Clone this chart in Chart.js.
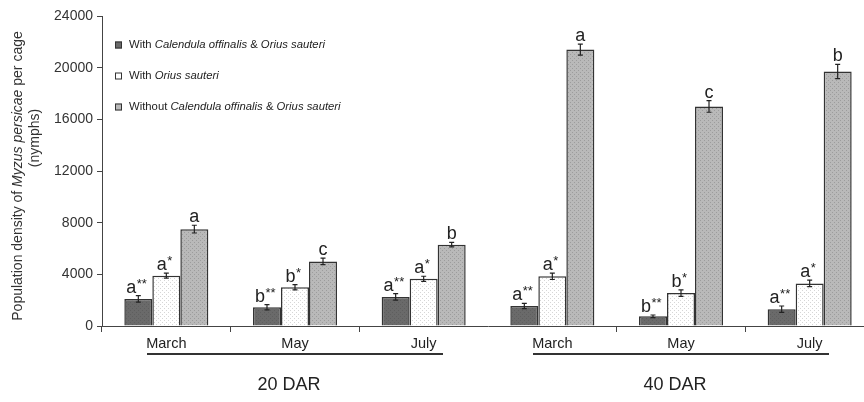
<!DOCTYPE html>
<html lang="en">
<head>
<meta charset="UTF-8">
<title>Myzus persicae population density</title>
<script src="https://cdn.jsdelivr.net/npm/chart.js"></script>
<style>
  html, body { margin: 0; padding: 0; background: #fff; overflow: hidden; }
  .wrap { width: 864px; height: 402px; overflow: hidden; position: relative; }
  .wrap canvas { position: absolute; left: 0; top: 0; }
</style>
</head>
<body>
<div class="wrap">
  <canvas id="chart" width="880" height="402"></canvas>
</div>
<script>
// data
const months = ['March', 'May', 'July', 'March', 'May', 'July'];
const periods = ['20 DAR', '40 DAR'];
const withBoth = [2100, 1450, 2250, 1550, 750, 1300];
const withBothErr = [250, 200, 250, 200, 100, 250];
const withOrius = [3900, 3000, 3650, 3850, 2550, 3300];
const withOriusErr = [200, 200, 200, 250, 250, 250];
const withoutBoth = [7500, 5000, 6300, 21400, 17000, 19700];
const withoutBothErr = [300, 250, 180, 430, 450, 550];
const lettersBoth = ['a**', 'b**', 'a**', 'a**', 'b**', 'a**'];
const lettersOrius = ['a*', 'b*', 'a*', 'a*', 'b*', 'a*'];
const lettersWithout = ['a', 'c', 'b', 'a', 'c', 'b'];
const yMax = 24000;
const yStep = 4000;

const FONT = '"Liberation Sans", Arial, sans-serif';

function dots(bg, dot) {
  const c = document.createElement('canvas');
  c.width = 4; c.height = 4;
  const g = c.getContext('2d');
  g.fillStyle = bg; g.fillRect(0, 0, 4, 4);
  g.fillStyle = dot;
  g.fillRect(0, 0, 1, 1);
  g.fillRect(2, 2, 1, 1);
  return g.createPattern(c, 'repeat');
}

const fillDark = dots('#6a6a6a', '#5e5e5e');
const fillWhite = dots('#ffffff', '#d6d6d6');
const fillGrey = dots('#b9b9b9', '#9c9c9c');

// legend entries, with italic parts
const legendItems = [
  { fill: '#6a6a6a', parts: [['With ', 0], ['Calendula offinalis', 1], [' & ', 0], ['Orius sauteri', 1]] },
  { fill: '#ffffff', parts: [['With ', 0], ['Orius sauteri', 1]] },
  { fill: '#b9b9b9', parts: [['Without ', 0], ['Calendula offinalis', 1], [' & ', 0], ['Orius sauteri', 1]] }
];

function drawParts(ctx, parts, x, y, size, align) {
  let total = 0;
  parts.forEach(p => {
    ctx.font = (p[1] ? 'italic ' : '') + size + 'px ' + FONT;
    total += ctx.measureText(p[0]).width;
  });
  let cx = align === 'center' ? x - total / 2 : x;
  ctx.textAlign = 'left';
  parts.forEach(p => {
    ctx.font = (p[1] ? 'italic ' : '') + size + 'px ' + FONT;
    ctx.fillText(p[0], cx, y);
    cx += ctx.measureText(p[0]).width;
  });
}

const extras = {
  id: 'extras',
  afterDatasetsDraw(chart) {
    const ctx = chart.ctx;
    const y = chart.scales.y;
    const errs = [withBothErr, withOriusErr, withoutBothErr];
    const letters = [lettersBoth, lettersOrius, lettersWithout];
    ctx.save();
    chart.data.datasets.forEach((ds, di) => {
      chart.getDatasetMeta(di).data.forEach((bar, i) => {
        const v = ds.data[i];
        const yTop = y.getPixelForValue(v + errs[di][i]);
        const yBot = y.getPixelForValue(v - errs[di][i]);
        ctx.strokeStyle = '#222';
        ctx.lineWidth = 1.2;
        ctx.beginPath();
        ctx.moveTo(bar.x, yTop); ctx.lineTo(bar.x, yBot);
        ctx.moveTo(bar.x - 2.5, yTop); ctx.lineTo(bar.x + 2.5, yTop);
        ctx.moveTo(bar.x - 2.5, yBot); ctx.lineTo(bar.x + 2.5, yBot);
        ctx.stroke();

        // significance letters
        const txt = letters[di][i];
        const base = txt.replace(/\*/g, '');
        const stars = txt.slice(base.length);
        ctx.fillStyle = '#222';
        ctx.textBaseline = 'alphabetic';
        ctx.font = '18px ' + FONT;
        const wb = ctx.measureText(base).width;
        ctx.font = '13px ' + FONT;
        const ws = stars ? ctx.measureText(stars).width : 0;
        const x0 = bar.x - (wb + ws) / 2 - (stars ? 2 : 0);
        const by = yTop - 3;
        ctx.textAlign = 'left';
        ctx.font = '18px ' + FONT;
        ctx.fillText(base, x0, by);
        if (stars) {
          ctx.font = '13px ' + FONT;
          ctx.fillText(stars, x0 + wb + 0.5, by - 5);
        }
      });
    });
    ctx.restore();
  },
  afterDraw(chart) {
    const ctx = chart.ctx;
    const x = chart.scales.x;
    ctx.save();
    ctx.fillStyle = '#222';

    // period brackets under the month labels
    periods.forEach((p, k) => {
      const c0 = x.getPixelForValue(k * 3);
      const c2 = x.getPixelForValue(k * 3 + 2);
      const mid = (c0 + c2) / 2;
      ctx.strokeStyle = '#333';
      ctx.lineWidth = 2;
      ctx.beginPath();
      ctx.moveTo(mid - 148, 354); ctx.lineTo(mid + 148, 354);
      ctx.stroke();
      ctx.font = '18px ' + FONT;
      ctx.textAlign = 'center';
      ctx.textBaseline = 'middle';
      ctx.fillText(p, mid - 6, 385);
    });

    // legend
    ctx.textBaseline = 'middle';
    legendItems.forEach((it, i) => {
      const ly = 45 + i * 31;
      ctx.fillStyle = it.fill;
      ctx.fillRect(115, ly - 3.5, 7, 7);
      ctx.strokeStyle = '#333';
      ctx.lineWidth = 1;
      ctx.strokeRect(115.5, ly - 3, 6, 6);
      ctx.fillStyle = '#222';
      drawParts(ctx, it.parts, 129, ly, 11.3, 'left');
    });

    // y axis title
    ctx.translate(18, 176);
    ctx.rotate(-Math.PI / 2);
    ctx.textBaseline = 'middle';
    ctx.fillStyle = '#333';
    drawParts(ctx, [['Population density of ', 0], ['Myzus persicae', 1], [' per cage', 0]], 0, 0, 14, 'center');
    ctx.font = '14px ' + FONT;
    ctx.textAlign = 'center';
    ctx.fillText('(nymphs)', 38, 17);
    ctx.restore();
  }
};

new Chart(document.getElementById('chart'), {
  type: 'bar',
  data: {
    labels: months,
    datasets: [
      { label: 'With Calendula offinalis & Orius sauteri', data: withBoth, backgroundColor: fillDark },
      { label: 'With Orius sauteri', data: withOrius, backgroundColor: fillWhite },
      { label: 'Without Calendula offinalis & Orius sauteri', data: withoutBoth, backgroundColor: fillGrey }
    ].map(d => Object.assign(d, {
      borderColor: '#333', borderWidth: 1.5, borderSkipped: 'bottom',
      categoryPercentage: 0.653, barPercentage: 1
    }))
  },
  options: {
    responsive: false,
    animation: false,
    layout: { padding: { top: 16, right: 6, left: 0, bottom: 0 } },
    plugins: { legend: { display: false }, tooltip: { enabled: false } },
    scales: {
      x: {
        grid: {
          drawOnChartArea: false, tickLength: 6, offset: true,
          color: c => c.index === 3 ? 'rgba(0,0,0,0)' : '#444'
        },
        border: { color: '#444', width: 1 },
        ticks: { color: '#222', font: { family: FONT, size: 14.5 }, padding: 3, maxRotation: 0 },
        afterFit: s => { s.height = 76; }
      },
      y: {
        min: 0, max: yMax,
        grid: { drawOnChartArea: false, tickLength: 5, color: '#444' },
        border: { color: '#444', width: 1 },
        ticks: {
          stepSize: yStep, color: '#333', font: { family: FONT, size: 14 }, padding: 4,
          callback: v => String(v)
        },
        afterFit: s => { s.width = 102; }
      }
    }
  },
  plugins: [extras]
});
</script>
</body>
</html>
